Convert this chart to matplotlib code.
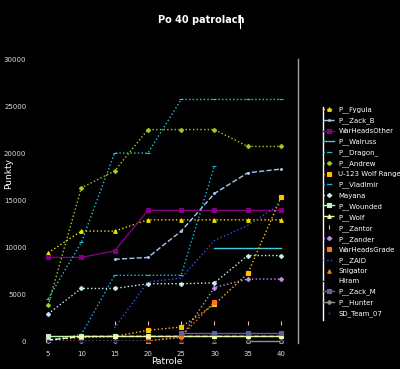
import numpy as np
import matplotlib as mpl
import matplotlib.pyplot as plt
from matplotlib.lines import Line2D

nan = np.nan

patrole = [5, 10, 15, 20, 25, 30, 35, 40]

p_fygula = [9400, 11700, 11700, 12900, 12900, 12900, 12900, 12900]
p_zack_b = [nan, nan, 8700, 8900, 11700, 15700, 17900, 18300]
war_heads_other = [8900, 8900, 9600, 13900, 13900, 13900, 13900, 13900]
p_walruss = [nan, nan, nan, nan, nan, 9950, 9950, 9950]
p_dragon = [4500, 10500, 20000, 20000, 25700, 25700, 25700, 25700]
p_andrew = [3800, 16300, 18100, 22500, 22500, 22500, 20700, 20700]
u123 = [100, 400, 500, 1150, 1500, 3900, 7200, 15300]
p_vladimir = [100, 700, 7000, 7000, 7000, 18650, nan, nan]
mayana = [2900, 5600, 5600, 6100, 6100, 6200, 9100, 9100]
p_wounded = [500, 500, 500, 500, 500, 500, 500, 500]
p_wolf = [100, 500, 500, 500, 500, 500, 500, 500]
p_zantor = [nan, nan, 1900, 1900, 1900, 1900, 1900, 1900]
p_zander = [0, 0, 0, 0, 400, 5700, 6600, 6600]
war_heads_grade = [nan, nan, nan, 0, 500, 4200, nan, nan]
p_zaid = [nan, nan, 1400, 6300, 6700, 10700, 12300, 14600]
snigator = [nan, nan, nan, 50, 50, 50, 50, 50]
hiram = [0, 0, 0, 0, 0, 0, 0, 0]
p_zack_m = [nan, nan, nan, nan, 850, 850, 850, 850]
p_hunter = [nan, nan, nan, nan, nan, nan, 0, 0]
sd_team_07 = [0, 0, 0, 0, 0, 0, 0, 0]

y_ticks = [0, 5000, 10000, 15000, 20000, 25000, 30000]

mpl.rcParams.update({
    "font.family": "DejaVu Sans",
    "savefig.facecolor": "black",
})

# (label, values, color, linestyle, marker)
series = [
    ("P__Fygula", p_fygula, "#f0e000", ":", "^"),
    ("P__Zack_B", p_zack_b, "#a8c8f8", "--", "."),
    ("WarHeadsOther", war_heads_other, "#800080", "-", "s"),
    ("P__Walruss", p_walruss, "#40c8e0", "-", None),
    ("P__Dragon_", p_dragon, "#20c8d8", ":", "_"),
    ("P__Andrew", p_andrew, "#a0d020", ":", "P"),
    ("U-123 Wolf Range", u123, "#ffc000", ":", "s"),
    ("P__Vladimir", p_vladimir, "#10c0e8", ":", "_"),
    ("Mayana", mayana, "#c8f0f0", ":", "P"),
    ("P__Wounded", p_wounded, "#c0f0c0", "-", "s"),
    ("P__Wolf", p_wolf, "#f8f8a0", "--", "^"),
    ("P__Zantor", p_zantor, "#ffb0b0", "none", "|"),
    ("P__Zander", p_zander, "#c090f0", ":", "P"),
    ("WarHeadsGrade", war_heads_grade, "#ff7020", ":", "s"),
    ("P__ZAID", p_zaid, "#3050f0", ":", None),
    ("Snigator", snigator, "#f08000", "none", "^"),
    ("Hiram", hiram, "#000000", "-", None),
    ("P__Zack_M", p_zack_m, "#6060a0", "-", "s"),
    ("P__Hunter", p_hunter, "#909090", "-", "P"),
    ("SD_Team_07", sd_team_07, "#102060", "none", "."),
]

fig = plt.figure(figsize=(4.0, 3.69), dpi=100, facecolor="black")
ax = fig.add_axes([0.0868, 0.0705, 0.745 - 0.0868, 0.840 - 0.0705])
ax.set_facecolor("black")

handles = []
for label, vals, color, ls, mk in series:
    h, = ax.plot(patrole, vals, color=color, linestyle=ls, linewidth=1,
                 marker=mk, markersize=2.6, markeredgewidth=0.8, label=label)
    handles.append(h)

ax.set_xlim(3, 42.55)
ax.set_ylim(-200, 30000)
ax.set_xticks(patrole)
ax.set_yticks(y_ticks)
ax.tick_params(colors="#dddddd", labelsize=5, length=0, pad=6)
for side in ["left", "top", "bottom"]:
    ax.spines[side].set_visible(False)
ax.spines["right"].set_color("#a0a0a0")
ax.spines["right"].set_linewidth(1)

ax.set_xlabel("Patrole", color="white", fontsize=6.5, labelpad=0)
# y label sits over the tick labels, as in the reference
fig.text(0.022, 0.53, "Punkty", color="white", fontsize=6.5, rotation=90,
         ha="center", va="center")

fig.text(0.503, 0.945, "Po 40 patrolach", color="white", fontsize=7,
         fontweight="bold", ha="center", va="center")
fig.add_artist(Line2D([0.60, 0.60], [0.924, 0.96], color="white", lw=0.8))

leg = fig.legend(handles=handles, loc="upper left", bbox_to_anchor=(0.808, 0.712),
                 frameon=False, fontsize=5, labelcolor="white", handlelength=1.6,
                 handletextpad=0.6, labelspacing=0.61, borderaxespad=0,
                 borderpad=0)
fig.add_artist(Line2D([0.8075, 0.8075], [0.133, 0.71], color="white", lw=1))

fig.savefig("out.png", dpi=100, facecolor="black")
